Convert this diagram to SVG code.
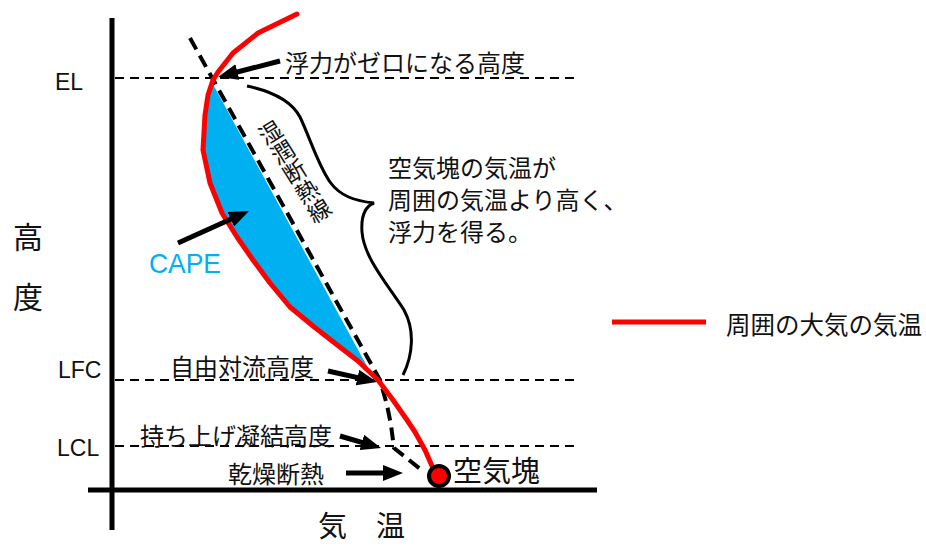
<svg xmlns="http://www.w3.org/2000/svg" width="926" height="549" viewBox="0 0 926 549">
<style>
.jp{font-family:"Noto Sans CJK JP","Noto Sans",sans-serif;fill:#111}
.lat{font-family:"Liberation Sans",Arial,sans-serif;fill:#111}
.lvl{stroke:#000;stroke-width:2;stroke-dasharray:9 6;fill:none}
.arr{stroke:#000;stroke-width:5;fill:none;marker-end:url(#ah)}
.red{stroke:#f00;stroke-width:5;fill:none;stroke-linejoin:round;stroke-linecap:round}
</style>
<defs>
<marker id="ah" viewBox="0 0 10 8" markerWidth="4" markerHeight="3.2" refX="3" refY="4" orient="auto" markerUnits="strokeWidth">
<path d="M0,0 L10,4 L0,8 z" fill="#000"/>
</marker>
</defs>
<g id="levels">
<line class="lvl" x1="115" y1="78" x2="580" y2="78"/>
<line class="lvl" x1="115" y1="380" x2="580" y2="380"/>
<line class="lvl" x1="115" y1="446" x2="580" y2="446"/>
</g>
<g id="cape-area">
<path d="M213,78 L208,95 L205,115 L203,150 L210,183 L222,213 L237,237 L253,260 L270,283 L290,307 L313,326 L336,344 L358,361 L378,380 Z" fill="#00b0f0"/>
</g>
<g id="axes">
<line x1="112" y1="18" x2="112" y2="530" stroke="#000" stroke-width="5"/>
<line x1="88" y1="490" x2="597" y2="490" stroke="#000" stroke-width="5"/>
</g>
<g id="moist-adiabat">
<path d="M213,78 L378,380" stroke="#fff" stroke-width="6" fill="none"/>
<path d="M190,38 L380,380 L387,405 L391,425 L394,448 L424,472" stroke="#000" stroke-width="4" stroke-dasharray="13 7" fill="none"/>
</g>
<g id="env-temp">
<path class="red" d="M297,14 L258,33 L233,53 L218,72 L213,80 L208,95 L205,115 L203,150 L210,183 L222,213 L237,237 L253,260 L270,283 L290,307 L313,326 L336,344 L358,361 L378,380 L393,400 L407,420 L415,432 L425,450 L432,466 L438,476"/>
</g>
<g id="parcel">
<circle cx="439" cy="476" r="10" fill="#f00" stroke="#000" stroke-width="4"/>
</g>
<g id="brace">
<path d="M247,86 C275,92 292,102 300,117 C310,138 318,165 330,182 C340,196 355,201 374,203 C364,207 361,218 362,232 C364,258 388,285 404,310 C415,330 413,355 403,375" stroke="#000" stroke-width="3" fill="none"/>
</g>
<g id="connectors">
<line class="arr" x1="280" y1="61" x2="231.6" y2="73.5"/>
<line class="arr" x1="178" y1="243" x2="236.2" y2="216.8"/>
<line class="arr" x1="328" y1="371" x2="363.3" y2="378.9"/>
<line class="arr" x1="340" y1="436" x2="367.6" y2="444.1"/>
<line class="arr" x1="346" y1="473" x2="389" y2="473"/>
</g>
<g id="labels">
<text class="lat" x="55" y="90" font-size="23">EL</text>
<text class="lat" x="58" y="378" font-size="23">LFC</text>
<text class="lat" x="57" y="456" font-size="23">LCL</text>
<text class="jp" x="13" y="248" font-size="30">高</text>
<text class="jp" x="13" y="308" font-size="30">度</text>
<text class="jp" x="318" y="537" font-size="29">気　温</text>
<text class="lat" x="149" y="273" font-size="28" textLength="72" lengthAdjust="spacingAndGlyphs" style="fill:#00b0f0">CAPE</text>
<text class="jp" x="285" y="72" font-size="24">浮力がゼロになる高度</text>
<text class="jp" font-size="23" writing-mode="tb" transform="translate(295,172) rotate(-32)" x="0" y="-58">湿潤断熱線</text>
<text class="jp" x="388" y="177" font-size="24">空気塊の気温が</text>
<text class="jp" x="388" y="209" font-size="24">周囲の気温より高く、</text>
<text class="jp" x="388" y="241" font-size="24">浮力を得る。</text>
<text class="jp" x="170" y="376" font-size="24">自由対流高度</text>
<text class="jp" x="140" y="445" font-size="24">持ち上げ凝結高度</text>
<text class="jp" x="228" y="483" font-size="24">乾燥断熱</text>
<text class="jp" x="453" y="482" font-size="29">空気塊</text>
</g>
<g id="legend">
<line x1="612" y1="322" x2="706" y2="322" stroke="#f00" stroke-width="5"/>
<text class="jp" x="726" y="334" font-size="24.5">周囲の大気の気温</text>
</g>
</svg>
